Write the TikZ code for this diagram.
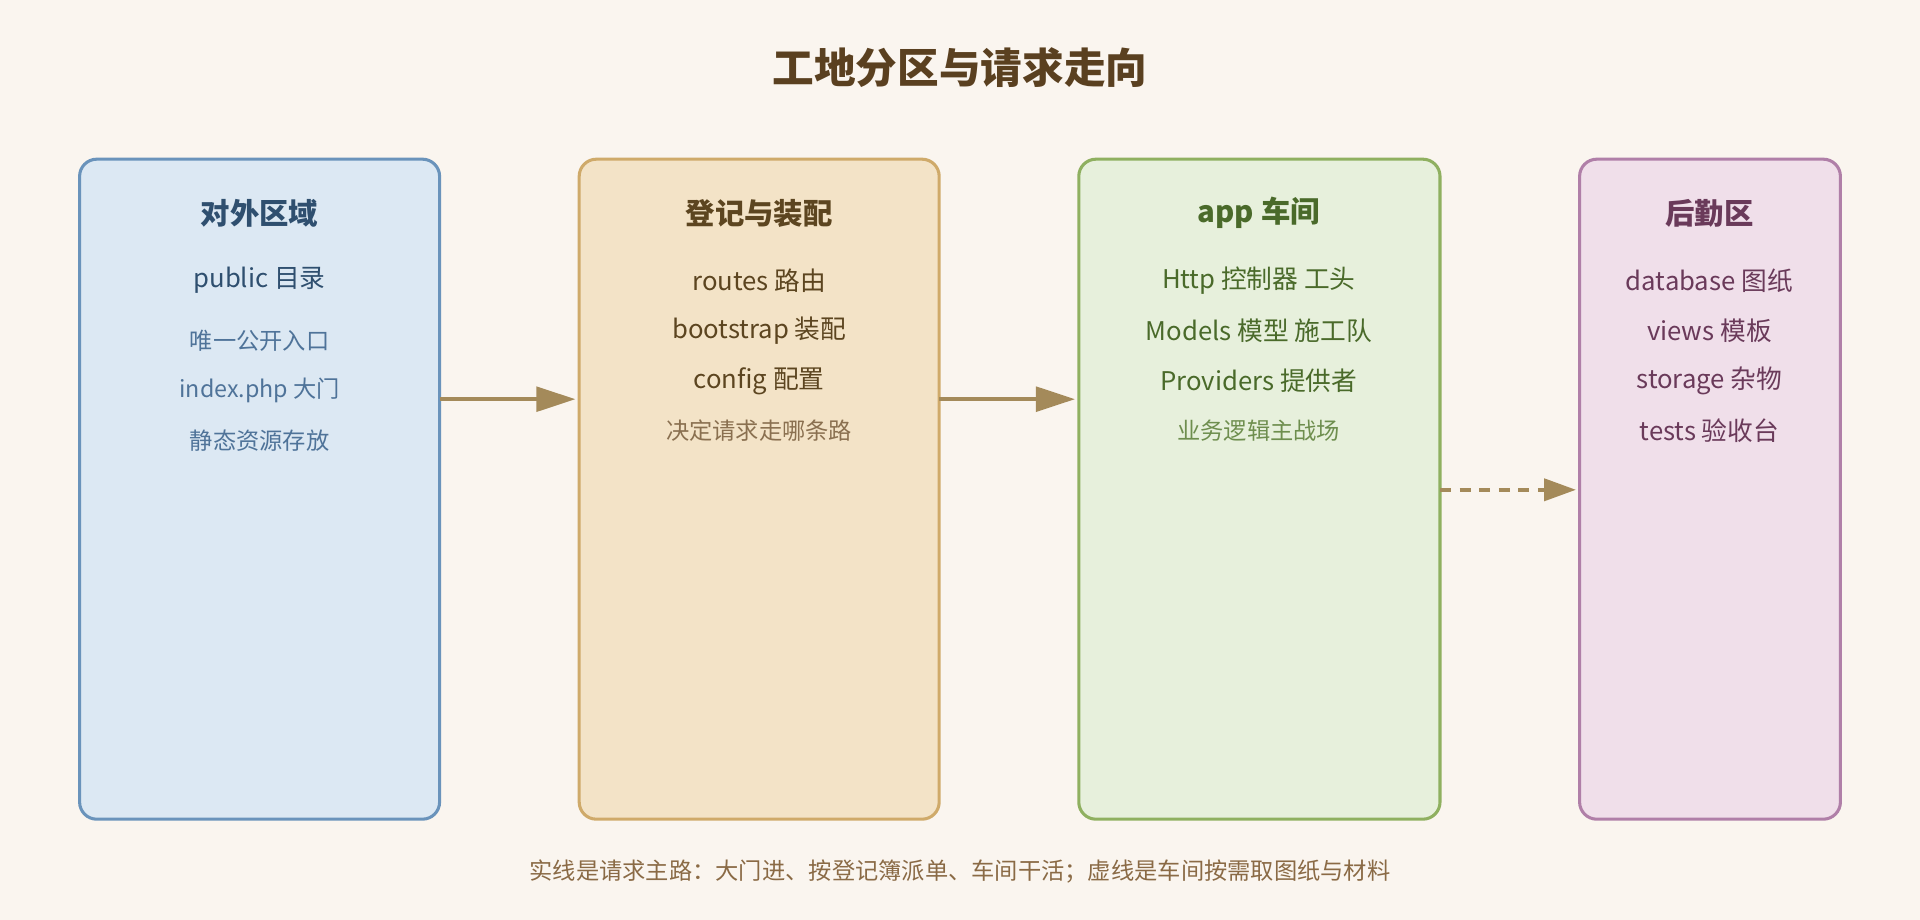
\documentclass[tikz,border=0pt]{standalone}
\usepackage{fontspec}
\setmainfont{Noto Sans CJK SC}
\usetikzlibrary{arrows.meta}
\definecolor{bg}{HTML}{FAF5EF}
\definecolor{af}{HTML}{DCE8F3}\definecolor{as}{HTML}{6A93BB}\definecolor{at}{HTML}{2F4F6F}\definecolor{al}{HTML}{4F7399}
\definecolor{bf}{HTML}{F3E3C7}\definecolor{bs}{HTML}{CFAA6A}\definecolor{bt}{HTML}{5C4520}\definecolor{bl}{HTML}{8A7050}
\definecolor{cf}{HTML}{E7F0DC}\definecolor{cs}{HTML}{8FB060}\definecolor{ct}{HTML}{4A6A2A}\definecolor{cl}{HTML}{6E8E4E}
\definecolor{df}{HTML}{F0DFEA}\definecolor{ds}{HTML}{B07FA8}\definecolor{dt}{HTML}{6A3A5A}
\definecolor{arr}{HTML}{A48A5A}\definecolor{ft}{HTML}{8A6A45}\definecolor{tt}{HTML}{5A4020}
\begin{document}
\begin{tikzpicture}[x=1pt,y=-1pt,
 box/.style={rounded corners=14pt,line width=2.5pt},
 hd/.style={font=\fontsize{24}{28}\selectfont\bfseries},
 it/.style={font=\fontsize{21}{25}\selectfont},
 sm/.style={font=\fontsize{19}{23}\selectfont},
 con/.style={line width=3.5pt,color=arr,-{Triangle[length=32pt,width=20pt]}}]
\useasboundingbox[fill=bg] (0,0) rectangle (1568,751);
\node[font=\fontsize{34}{40}\selectfont\bfseries,text=tt] (title) at (784,55) {工地分区与请求走向};
\draw[box,fill=af,draw=as] (65,130) rectangle (359,669);
\node[coordinate] (a) at (359,326) {};
\draw[box,fill=bf,draw=bs] (473,130) rectangle (767,669);
\draw[box,fill=cf,draw=cs] (881,130) rectangle (1176,669);
\draw[box,fill=df,draw=ds] (1290,130) rectangle (1503,669);
\coordinate (a1) at (359,326); \coordinate (b0) at (470,326);
\coordinate (b1) at (767,326); \coordinate (c0) at (878,326);
\coordinate (c1) at (1176,400); \coordinate (d0) at (1287,400);
\draw[con] (a1)--(b0); \draw[con] (b1)--(c0);
\draw[con,line width=3pt,dash pattern=on 9pt off 7pt,-{Triangle[length=26pt,width=18pt]}] (c1)--(d0);
\begin{scope}[text=at]
\node[hd] (a_t) at (212,174) {对外区域};
\node[it] (a_1) at (212,229) {public 目录};
\node[sm,text=al] (a_2) at (212,278) {唯一公开入口};
\node[sm,text=al] (a_3) at (212,319) {index.php 大门};
\node[sm,text=al] (a_4) at (212,360) {静态资源存放};
\end{scope}
\begin{scope}[text=bt]
\node[hd] (b_t) at (620,174) {登记与装配};
\node[it] (b_1) at (620,229) {routes 路由};
\node[it] (b_2) at (620,270) {bootstrap 装配};
\node[it] (b_3) at (620,311) {config 配置};
\node[sm,text=bl] (b_4) at (620,352) {决定请求走哪条路};
\end{scope}
\begin{scope}[text=ct]
\node[hd] (c_t) at (1028,174) {app 车间};
\node[it] (c_1) at (1028,229) {Http 控制器 工头};
\node[it] (c_2) at (1028,270) {Models 模型 施工队};
\node[it] (c_3) at (1028,311) {Providers 提供者};
\node[sm,text=cl] (c_4) at (1028,352) {业务逻辑主战场};
\end{scope}
\begin{scope}[text=dt]
\node[hd] (d_t) at (1396,174) {后勤区};
\node[it] (d_1) at (1396,229) {database 图纸};
\node[it] (d_2) at (1396,270) {views 模板};
\node[it] (d_3) at (1396,311) {storage 杂物};
\node[it] (d_4) at (1396,352) {tests 验收台};
\end{scope}
\node[sm,text=ft] (foot) at (784,712) {实线是请求主路：大门进、按登记簿派单、车间干活；虚线是车间按需取图纸与材料};
\end{tikzpicture}
\end{document}
